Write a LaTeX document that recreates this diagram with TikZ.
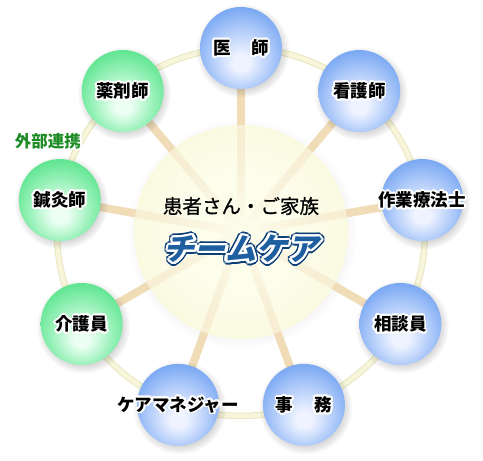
\documentclass[tikz,border=0pt]{standalone}
\usepackage{fontspec}
\setmainfont{Noto Sans CJK JP}
\newfontfamily\teamfont{Noto Sans CJK JP}[BoldFeatures={FakeSlant=0.22}]
\newfontfamily\medfont{Noto Sans CJK JP}[FakeBold=0.8]
\usetikzlibrary{fadings}
\definecolor{ringc}{HTML}{F7F6DA}
\definecolor{ringe}{HTML}{E8E6C0}
\definecolor{spokec}{HTML}{F0DCB7}
\definecolor{cin}{HTML}{FDFDEC}
\definecolor{cout}{HTML}{F8F7D4}
\definecolor{bhi}{HTML}{EEF3FF}
\definecolor{bmid}{HTML}{ADC9F9}
\definecolor{bout}{HTML}{70A2F2}
\definecolor{ghi}{HTML}{ECFFF2}
\definecolor{gmid}{HTML}{97F1B8}
\definecolor{gout}{HTML}{55E389}
\definecolor{navy}{HTML}{0B3D78}
\definecolor{teamblue}{HTML}{1F5F9F}
\definecolor{linkgreen}{HTML}{1E8C25}
\pgfdeclareradialshading{blueball}{\pgfpoint{0bp}{-10bp}}{color(0bp)=(bhi); color(5bp)=(bhi); color(19bp)=(bmid); color(31bp)=(bout); color(50bp)=(bout)}
\pgfdeclareradialshading{greenball}{\pgfpoint{0bp}{-10bp}}{color(0bp)=(ghi); color(5bp)=(ghi); color(19bp)=(gmid); color(31bp)=(gout); color(50bp)=(gout)}
\pgfdeclareradialshading{centreball}{\pgfpoint{0bp}{0bp}}{color(0bp)=(cin); color(14bp)=(cin); color(25bp)=(cout); color(50bp)=(cout)}
\tikzfading[name=glowfade, inner color=transparent!0, outer color=transparent!100]
\newcommand\halolabel[5]{%
  \foreach \hA in {0,20,...,340}{\node[#3,text=white] at ([shift={(\hA:#4)}]#2) {#5};}
  \node[#3] (#1) at (#2) {#5};}
\tikzset{
  satlabel/.style={font=\bfseries\fontsize{17.5}{17.5}\selectfont, text=black, inner sep=0},
  teamstyle/.style={font=\teamfont\bfseries\fontsize{31}{31}\selectfont, inner sep=0},
  sat/.style={circle, minimum size=82pt, inner sep=0},
  bluesat/.style={sat, shading=blueball},
  greensat/.style={sat, shading=greenball},
}
\begin{document}
\begin{tikzpicture}[x=1pt,y=1pt]
\useasboundingbox (0,0) rectangle (483,461);
\coordinate (c) at (241,229);
% satellite positions
\path (c) ++(90:184) coordinate (p1);
\path (c) ++(50:184) coordinate (p2);
\path (c) ++(10:184) coordinate (p3);
\path (c) ++(-30:184) coordinate (p4);
\path (c) ++(-70:184) coordinate (p5);
\path (c) ++(-110:184) coordinate (p6);
\path (c) ++(-150:184) coordinate (p7);
\path (c) ++(170:184) coordinate (p8);
\path (c) ++(130:184) coordinate (p9);
% ring
\draw[ringe, line width=6.5pt] (c) circle (184);
\draw[ringc, line width=4.5pt] (c) circle (184);
% centre
\fill[black, opacity=0.08, path fading=circle with fuzzy edge 20 percent] ([shift={(1,-2)}]c) circle (115);
\node[circle, minimum size=214pt, inner sep=0, shading=centreball] (centre) at (c) {};
% spokes
\foreach \i in {1,...,9}{\draw[spokec, line width=8pt] (centre.center) -- (p\i);}
\fill[cin, opacity=0.55] (c) circle (107);
\fill[cin, path fading=glowfade] (c) circle (90);
% shadows
\foreach \i in {1,...,9}{\fill[black, opacity=0.16, path fading=circle with fuzzy edge 20 percent] ([shift={(1.5,-2.5)}]p\i) circle (47);}
% satellites
\node[bluesat] (s1) at (p1) {};
\node[bluesat] (s2) at (p2) {};
\node[bluesat] (s3) at (p3) {};
\node[bluesat] (s4) at (p4) {};
\node[bluesat] (s5) at (p5) {};
\node[bluesat] (s6) at (p6) {};
\node[greensat] (s7) at (p7) {};
\node[greensat] (s8) at (p8) {};
\node[greensat] (s9) at (p9) {};
% labels
\halolabel{l1}{s1}{satlabel}{1.8}{医\hspace{1.2em}師}
\halolabel{l2}{s2}{satlabel}{1.8}{看護師}
\halolabel{l3}{s3}{satlabel}{1.8}{作業療法士}
\halolabel{l4}{s4}{satlabel}{1.8}{相談員}
\halolabel{l5}{s5}{satlabel}{1.8}{事\hspace{1.2em}務}
\halolabel{l6}{s6}{satlabel}{1.8}{ケアマネジャー}
\halolabel{l7}{s7}{satlabel}{1.8}{介護員}
\halolabel{l8}{s8}{satlabel}{1.8}{鍼灸師}
\halolabel{l9}{s9}{satlabel}{1.8}{薬剤師}
\coordinate (gl) at (48,320);
\halolabel{link}{gl}{satlabel, text=linkgreen, font=\bfseries\fontsize{16.5}{16.5}\selectfont}{1.8}{外部連携}
% centre texts
\node[font=\medfont\fontsize{19.5}{19.5}\selectfont, inner sep=0] (patient) at (241,255) {患者さん・ご家族};
\coordinate (tc) at (241,212);
\foreach \hA in {0,15,...,345}{\node[teamstyle, text=navy] at ([shift={(\hA:3.8)}]tc) {チームケア};}
\foreach \hA in {0,20,...,340}{\node[teamstyle, text=white] at ([shift={(\hA:2.2)}]tc) {チームケア};}
\node[teamstyle, text=teamblue] (team) at (tc) {チームケア};
\end{tikzpicture}
\end{document}
